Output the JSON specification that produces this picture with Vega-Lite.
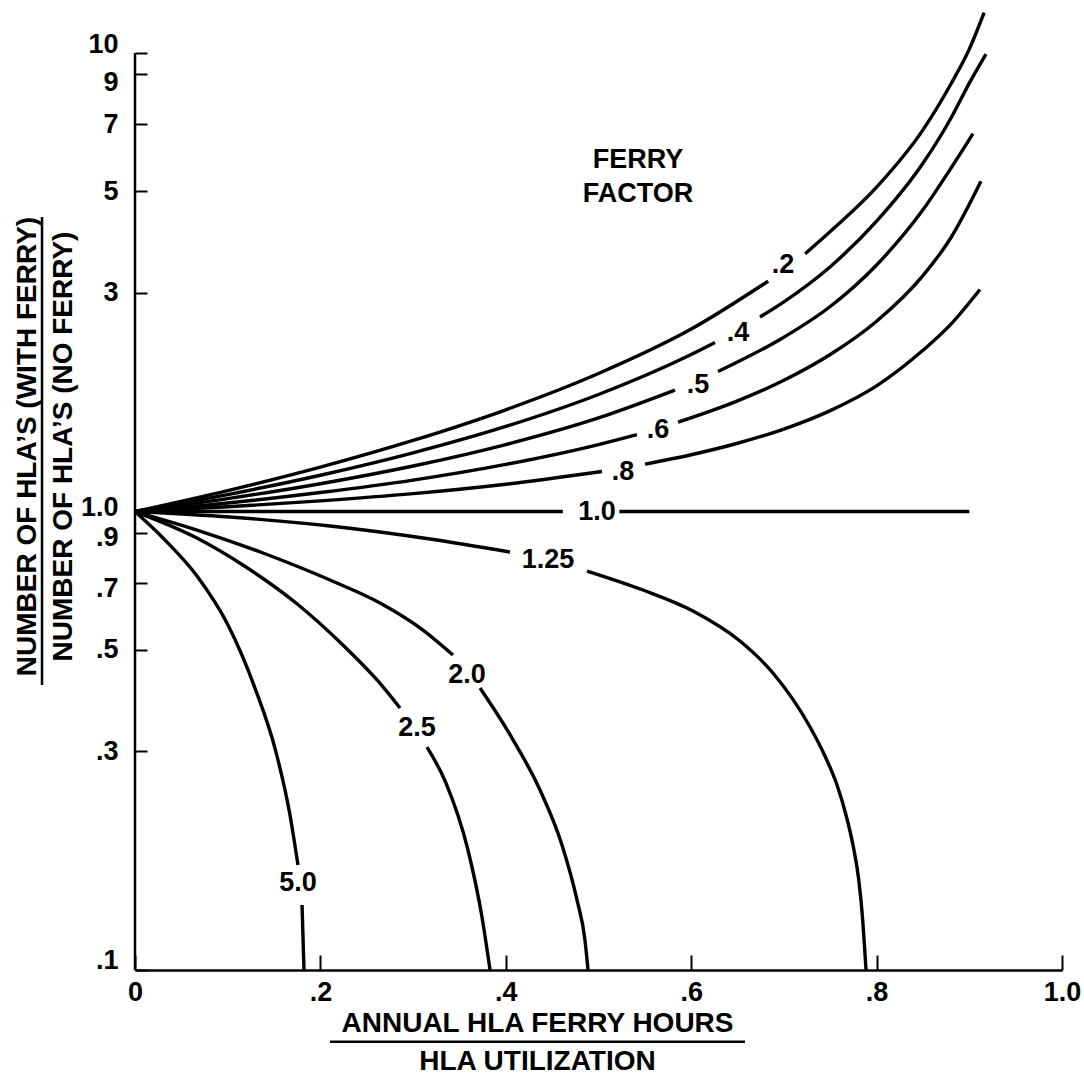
{
  "$schema": "https://vega.github.io/schema/vega-lite/v6.json",
  "width": 927,
  "height": 962,
  "autosize": {"type": "none"},
  "padding": {"left": 135, "top": 8, "right": 22, "bottom": 112},
  "background": "white",
  "config": {"view": {"stroke": null}, "font": "Liberation Sans"},
  "datasets": {
    "curves": [
      {"s": "t1", "x": 0, "y": 1}, {"s": "t1", "x": 0.1, "y": 1.111}, {"s": "t1", "x": 0.2, "y": 1.25}, {"s": "t1", "x": 0.3, "y": 1.429}, {"s": "t1", "x": 0.4, "y": 1.667}, {"s": "t1", "x": 0.5, "y": 2.0}, {"s": "t1", "x": 0.6, "y": 2.5}, {"s": "t1", "x": 0.683, "y": 3.18},
      {"s": "t2", "x": 0.723, "y": 3.65}, {"s": "t2", "x": 0.75, "y": 4.08}, {"s": "t2", "x": 0.8, "y": 5.1}, {"s": "t2", "x": 0.85, "y": 6.8}, {"s": "t2", "x": 0.88, "y": 8.55}, {"s": "t2", "x": 0.9, "y": 10.2}, {"s": "t2", "x": 0.916, "y": 12.25},
      {"s": "u1", "x": 0, "y": 1}, {"s": "u1", "x": 0.1, "y": 1.089}, {"s": "u1", "x": 0.2, "y": 1.2}, {"s": "u1", "x": 0.3, "y": 1.343}, {"s": "u1", "x": 0.4, "y": 1.533}, {"s": "u1", "x": 0.5, "y": 1.8}, {"s": "u1", "x": 0.6, "y": 2.2}, {"s": "u1", "x": 0.6257, "y": 2.337},
      {"s": "u2", "x": 0.6742, "y": 2.656}, {"s": "u2", "x": 0.7, "y": 2.867}, {"s": "u2", "x": 0.75, "y": 3.42}, {"s": "u2", "x": 0.8, "y": 4.3}, {"s": "u2", "x": 0.85, "y": 5.75}, {"s": "u2", "x": 0.88, "y": 7.2}, {"s": "u2", "x": 0.9, "y": 8.6}, {"s": "u2", "x": 0.918, "y": 9.95},
      {"s": "v1", "x": 0, "y": 1}, {"s": "v1", "x": 0.1, "y": 1.067}, {"s": "v1", "x": 0.2, "y": 1.15}, {"s": "v1", "x": 0.3, "y": 1.257}, {"s": "v1", "x": 0.4, "y": 1.4}, {"s": "v1", "x": 0.5, "y": 1.6}, {"s": "v1", "x": 0.5825, "y": 1.84},
      {"s": "v2", "x": 0.6289, "y": 2.02}, {"s": "v2", "x": 0.7, "y": 2.4}, {"s": "v2", "x": 0.75, "y": 2.8}, {"s": "v2", "x": 0.8, "y": 3.45}, {"s": "v2", "x": 0.85, "y": 4.55}, {"s": "v2", "x": 0.88, "y": 5.6}, {"s": "v2", "x": 0.904, "y": 6.67},
      {"s": "w1", "x": 0, "y": 1}, {"s": "w1", "x": 0.1, "y": 1.044}, {"s": "w1", "x": 0.2, "y": 1.1}, {"s": "w1", "x": 0.3, "y": 1.171}, {"s": "w1", "x": 0.4, "y": 1.267}, {"s": "w1", "x": 0.5, "y": 1.4}, {"s": "w1", "x": 0.5415, "y": 1.472},
      {"s": "w2", "x": 0.5858, "y": 1.566}, {"s": "w2", "x": 0.65, "y": 1.743}, {"s": "w2", "x": 0.7, "y": 1.933}, {"s": "w2", "x": 0.75, "y": 2.2}, {"s": "w2", "x": 0.8, "y": 2.6}, {"s": "w2", "x": 0.85, "y": 3.27}, {"s": "w2", "x": 0.88, "y": 3.95}, {"s": "w2", "x": 0.9126, "y": 5.25},
      {"s": "z1", "x": 0, "y": 1}, {"s": "z1", "x": 0.1, "y": 1.024}, {"s": "z1", "x": 0.2, "y": 1.055}, {"s": "z1", "x": 0.3, "y": 1.094}, {"s": "z1", "x": 0.4, "y": 1.147}, {"s": "z1", "x": 0.5038, "y": 1.223},
      {"s": "z2", "x": 0.5502, "y": 1.269}, {"s": "z2", "x": 0.6, "y": 1.33}, {"s": "z2", "x": 0.65, "y": 1.409}, {"s": "z2", "x": 0.7, "y": 1.513}, {"s": "z2", "x": 0.75, "y": 1.66}, {"s": "z2", "x": 0.8, "y": 1.88}, {"s": "z2", "x": 0.85, "y": 2.247}, {"s": "z2", "x": 0.88, "y": 2.56}, {"s": "z2", "x": 0.9115, "y": 3.05},
      {"s": "o1", "x": 0, "y": 1}, {"s": "o1", "x": 0.4615, "y": 1},
      {"s": "o2", "x": 0.5225, "y": 1}, {"s": "o2", "x": 0.9, "y": 1},
      {"s": "a1", "x": 0, "y": 1}, {"s": "a1", "x": 0.1025, "y": 0.9727}, {"s": "a1", "x": 0.2104, "y": 0.9298}, {"s": "a1", "x": 0.3182, "y": 0.871}, {"s": "a1", "x": 0.4045, "y": 0.8161},
      {"s": "a2", "x": 0.4876, "y": 0.7417}, {"s": "a2", "x": 0.548, "y": 0.6742}, {"s": "a2", "x": 0.6019, "y": 0.6067}, {"s": "a2", "x": 0.6526, "y": 0.5218}, {"s": "a2", "x": 0.6882, "y": 0.4444}, {"s": "a2", "x": 0.7282, "y": 0.3388}, {"s": "a2", "x": 0.7443, "y": 0.2929}, {"s": "a2", "x": 0.7573, "y": 0.2532}, {"s": "a2", "x": 0.767, "y": 0.2178}, {"s": "a2", "x": 0.7745, "y": 0.1874}, {"s": "a2", "x": 0.7805, "y": 0.1587}, {"s": "a2", "x": 0.7843, "y": 0.1338}, {"s": "a2", "x": 0.7886, "y": 0.1},
      {"s": "b1", "x": 0, "y": 1}, {"s": "b1", "x": 0.0669, "y": 0.9113}, {"s": "b1", "x": 0.1381, "y": 0.8119}, {"s": "b1", "x": 0.2104, "y": 0.7088}, {"s": "b1", "x": 0.2643, "y": 0.6317}, {"s": "b1", "x": 0.3107, "y": 0.5514}, {"s": "b1", "x": 0.343, "y": 0.4864},
      {"s": "b2", "x": 0.3722, "y": 0.4121}, {"s": "b2", "x": 0.4067, "y": 0.3206}, {"s": "b2", "x": 0.4369, "y": 0.2469}, {"s": "b2", "x": 0.4606, "y": 0.1874}, {"s": "b2", "x": 0.4768, "y": 0.1422}, {"s": "b2", "x": 0.4854, "y": 0.1162}, {"s": "b2", "x": 0.4887, "y": 0.1},
      {"s": "c1", "x": 0, "y": 1}, {"s": "c1", "x": 0.0647, "y": 0.8798}, {"s": "c1", "x": 0.1197, "y": 0.7568}, {"s": "c1", "x": 0.1737, "y": 0.6317}, {"s": "c1", "x": 0.2265, "y": 0.5064}, {"s": "c1", "x": 0.2611, "y": 0.4291}, {"s": "c1", "x": 0.2859, "y": 0.3727},
      {"s": "c2", "x": 0.315, "y": 0.3064}, {"s": "c2", "x": 0.3355, "y": 0.2557}, {"s": "c2", "x": 0.3592, "y": 0.1827}, {"s": "c2", "x": 0.3743, "y": 0.1305}, {"s": "c2", "x": 0.383, "y": 0.1},
      {"s": "d1", "x": 0, "y": 1}, {"s": "d1", "x": 0.0302, "y": 0.8755}, {"s": "d1", "x": 0.0669, "y": 0.7232}, {"s": "d1", "x": 0.1003, "y": 0.5656}, {"s": "d1", "x": 0.1294, "y": 0.4121}, {"s": "d1", "x": 0.1521, "y": 0.2988}, {"s": "d1", "x": 0.1672, "y": 0.2178}, {"s": "d1", "x": 0.1758, "y": 0.1694},
      {"s": "d2", "x": 0.1802, "y": 0.1386}, {"s": "d2", "x": 0.1823, "y": 0.1}
    ],
    "labels": [
      {"t": ".2", "x": 0.699, "y": 3.448},
      {"t": ".4", "x": 0.6505, "y": 2.451},
      {"t": ".5", "x": 0.6073, "y": 1.888},
      {"t": ".6", "x": 0.5642, "y": 1.506},
      {"t": ".8", "x": 0.5264, "y": 1.219},
      {"t": "1.0", "x": 0.4984, "y": 1.0},
      {"t": "1.25", "x": 0.4455, "y": 0.7839},
      {"t": "2.0", "x": 0.3581, "y": 0.4398},
      {"t": "2.5", "x": 0.3042, "y": 0.3372},
      {"t": "5.0", "x": 0.1758, "y": 0.1547},
      {"t": "FERRY", "x": 0.5426, "y": 5.84},
      {"t": "FACTOR", "x": 0.5426, "y": 4.926}
    ],
    "rules": [
      {"x": 0, "x2": 0, "y": 0.1, "y2": 10},
      {"x": -0.1003, "x2": -0.1003, "y": 0.4183, "y2": 4.388},
      {"x": 0.2104, "x2": 0.658, "y": 0.0697, "y2": 0.0697}
    ]
  },
  "encoding": {
    "x": {
      "field": "x", "type": "quantitative",
      "scale": {"domain": [0, 1], "nice": false, "zero": false},
      "axis": {
        "values": [0, 0.2, 0.4, 0.6, 0.8, 1],
        "labelExpr": "datum.value == 0 ? '0' : datum.value == 1 ? '1.0' : replace(format(datum.value, '.1f'), '0.', '.')",
        "grid": false,
        "domainColor": "black", "domainWidth": 2.5,
        "tickColor": "black", "tickWidth": 2, "tickSize": -15,
        "labelFont": "Liberation Sans", "labelFontWeight": "bold", "labelFontSize": 27, "labelColor": "black",
        "labelPadding": 24, "labelFlush": false, "labelOverlap": false,
        "title": ["ANNUAL HLA FERRY HOURS", "HLA UTILIZATION"],
        "titleFont": "Liberation Sans", "titleFontWeight": "bold", "titleFontSize": 28, "titleColor": "black",
        "titleLineHeight": 38, "titleX": 402, "titleY": 53, "titleAlign": "center", "titleBaseline": "middle"
      }
    },
    "y": {
      "field": "y", "type": "quantitative",
      "scale": {"type": "log", "domain": [0.1, 12.54], "nice": false},
      "axis": {
        "values": [0.1, 0.3, 0.5, 0.7, 0.9, 1, 3, 5, 7, 9, 10],
        "labelExpr": "datum.value == 1 ? '1.0' : datum.value < 1 ? replace(format(datum.value, '.1f'), '0.', '.') : format(datum.value, 'd')",
        "grid": false,
        "domain": false,
        "tickColor": "black", "tickWidth": 2, "tickSize": -12,
        "labelFont": "Liberation Sans", "labelFontWeight": "bold", "labelFontSize": 27, "labelColor": "black",
        "labelPadding": 29, "labelOverlap": false, "labelFlush": false, "labelBaseline": "middle",
        "labelOffset": {
          "condition": [
            {"test": "datum.value == 10", "value": -9},
            {"test": "datum.value == 9", "value": 8},
            {"test": "datum.value == 1", "value": -4},
            {"test": "datum.value == 0.9", "value": 5},
            {"test": "datum.value == 0.7", "value": 6},
            {"test": "datum.value == 0.1", "value": -10}
          ],
          "value": 0
        },
        "title": ["NUMBER OF HLA\u2019S (WITH FERRY)", "NUMBER OF HLA\u2019S (NO FERRY)"],
        "titleFont": "Liberation Sans", "titleFontWeight": "bold", "titleFontSize": 28, "titleColor": "black",
        "titleLineHeight": 36, "titleX": -108, "titleY": 438, "titleAngle": -90, "titleAlign": "center", "titleBaseline": "middle"
      }
    }
  },
  "layer": [
    {
      "data": {"name": "curves"},
      "mark": {"type": "line", "color": "black", "strokeWidth": 3.4, "interpolate": "monotone"},
      "encoding": {"detail": {"field": "s", "type": "nominal"}}
    },
    {
      "data": {"name": "rules"},
      "mark": {"type": "rule", "color": "black", "strokeWidth": 2.5},
      "encoding": {"x2": {"field": "x2"}, "y2": {"field": "y2"}}
    },
    {
      "data": {"name": "labels"},
      "mark": {"type": "text", "font": "Liberation Sans", "fontWeight": "bold", "fontSize": 27, "color": "black", "align": "center", "baseline": "middle"},
      "encoding": {"text": {"field": "t", "type": "nominal"}}
    }
  ]
}
